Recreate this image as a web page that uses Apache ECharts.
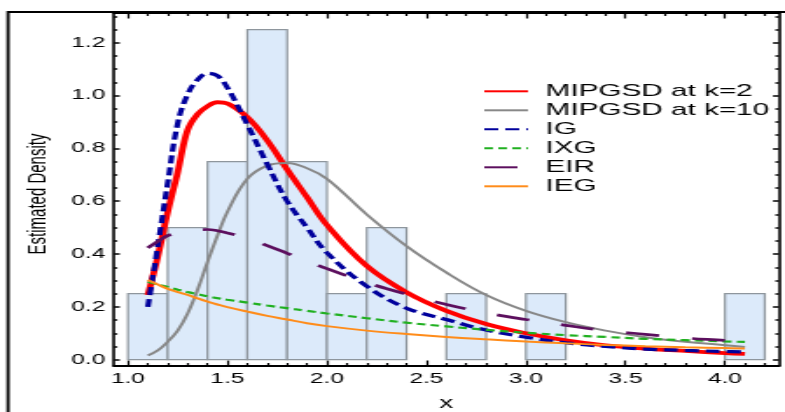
<!DOCTYPE html>
<html>
<head>
<meta charset="utf-8">
<script src="https://cdn.jsdelivr.net/npm/echarts@6/dist/echarts.min.js"></script>
<style>
  body { margin: 0; background: #fff; }
  /* the reference is stretched sideways, so the chart is drawn narrow and scaled */
  #main { width: 449px; height: 412px; transform: scaleX(1.7483); transform-origin: 0 0; }
</style>
</head>
<body>
<div id="main"></div>
<script>
// histogram bins (width 0.2), empty bins left out
var binStart = [1.0, 1.2, 1.4, 1.6, 1.8, 2.0, 2.2, 2.6, 3.0, 4.0];
var binHeight = [0.25, 0.5, 0.75, 1.25, 0.75, 0.25, 0.5, 0.25, 0.25, 0.25];
var binWidth = 0.2;

var xs = [1.1, 1.15, 1.2, 1.25, 1.3, 1.35, 1.4, 1.45, 1.5, 1.6, 1.7, 1.8, 1.9, 2.0,
          2.2, 2.4, 2.6, 2.8, 3.0, 3.2, 3.4, 3.6, 3.8, 4.0, 4.1];
var mipgsd2 = [0.245, 0.39, 0.56, 0.71, 0.87, 0.93, 0.96, 0.975, 0.97, 0.918, 0.83, 0.72, 0.615, 0.51,
               0.355, 0.255, 0.185, 0.135, 0.1, 0.073, 0.054, 0.042, 0.033, 0.025, 0.022];
var mipgsd10 = [0.016, 0.035, 0.068, 0.11, 0.175, 0.265, 0.37, 0.47, 0.56, 0.685, 0.735, 0.745, 0.725, 0.685,
                0.55, 0.43, 0.33, 0.245, 0.185, 0.142, 0.11, 0.085, 0.068, 0.055, 0.048];
var ig = [0.2, 0.43, 0.67, 0.895, 1.005, 1.06, 1.085, 1.075, 1.03, 0.89, 0.74, 0.6, 0.5, 0.405,
          0.278, 0.195, 0.152, 0.112, 0.085, 0.064, 0.05, 0.04, 0.035, 0.031, 0.029];
var ixg = [0.295, 0.285, 0.275, 0.265, 0.256, 0.248, 0.24, 0.233, 0.227, 0.216, 0.205, 0.195, 0.185, 0.175,
           0.157, 0.14, 0.126, 0.113, 0.102, 0.093, 0.086, 0.079, 0.074, 0.069, 0.067];
var eir = [0.423, 0.448, 0.47, 0.48, 0.488, 0.492, 0.493, 0.488, 0.48, 0.46, 0.432, 0.403, 0.374, 0.345,
           0.292, 0.248, 0.209, 0.177, 0.152, 0.13, 0.11, 0.096, 0.082, 0.073, 0.067];
var ieg = [0.302, 0.285, 0.268, 0.256, 0.245, 0.232, 0.22, 0.209, 0.199, 0.182, 0.166, 0.152, 0.138, 0.127,
           0.11, 0.097, 0.086, 0.077, 0.069, 0.062, 0.056, 0.051, 0.047, 0.044, 0.042];

// ticks
var xMajor = [1.0, 1.5, 2.0, 2.5, 3.0, 3.5, 4.0];
var xMinor = [1.1, 1.2, 1.3, 1.4, 1.6, 1.7, 1.8, 1.9, 2.1, 2.2, 2.3, 2.4, 2.6, 2.7, 2.8, 2.9,
              3.1, 3.2, 3.3, 3.4, 3.6, 3.7, 3.8, 3.9, 4.1, 4.2];
var yMajor = [0.0, 0.2, 0.4, 0.6, 0.8, 1.0, 1.2];
var yMinor = [0.05, 0.1, 0.15, 0.25, 0.3, 0.35, 0.45, 0.5, 0.55, 0.65, 0.7, 0.75,
              0.85, 0.9, 0.95, 1.05, 1.1, 1.15, 1.25, 1.3];

var xMin = 0.93, xMax = 4.27, yMin = -0.024, yMax = 1.313;
var font = 'Liberation Sans, Arial, sans-serif';

function pairs(ys) {
    return xs.map(function (x, i) { return [x, ys[i]]; });
}

function xAxis(pos, ticks, len, width, labels) {
    return {
        type: 'value', min: xMin, max: xMax, position: pos,
        splitLine: { show: false },
        axisLine: { show: len > 4, onZero: false, lineStyle: { color: '#000', width: 2 } },
        axisTick: { inside: true, length: len, customValues: ticks, lineStyle: { color: '#000', width: width } },
        axisLabel: labels ? {
            customValues: ticks, margin: 6, color: '#000', fontSize: 14, fontFamily: font,
            formatter: function (v) { return v.toFixed(1); }
        } : { show: false }
    };
}

function yAxis(pos, ticks, len, labels) {
    return {
        type: 'value', min: yMin, max: yMax, position: pos,
        splitLine: { show: false },
        axisLine: { show: len > 2, onZero: false, lineStyle: { color: '#000', width: 1.6 } },
        axisTick: { inside: true, length: len, customValues: ticks, lineStyle: { color: '#000', width: 1.5 } },
        axisLabel: labels ? {
            customValues: ticks, margin: 5, color: '#000', fontSize: 14, fontFamily: font,
            formatter: function (v) { return v.toFixed(1); }
        } : { show: false }
    };
}

var bottomX = xAxis('bottom', xMajor, 5.5, 1.2, true);
bottomX.name = 'x';
bottomX.nameLocation = 'middle';
bottomX.nameGap = 30;
bottomX.nameTextStyle = { color: '#000', fontSize: 16, fontFamily: font };

var leftY = yAxis('left', yMajor, 3.3, true);
leftY.name = 'Estimated Density';
leftY.nameLocation = 'middle';
leftY.nameGap = 34;
leftY.nameTextStyle = { color: '#000', fontSize: 15, fontFamily: font, padding: [0, 9, 0, 0] };

function curve(name, ys, color, width, dash) {
    return {
        name: name, type: 'line', data: pairs(ys), smooth: 0.4,
        symbol: 'none', xAxisIndex: 0, yAxisIndex: 0,
        lineStyle: { color: color, width: width, type: dash || 'solid' },
        itemStyle: { color: color }
    };
}

var myChart = echarts.init(document.getElementById('main'));

var option = {
    animation: false,
    backgroundColor: '#fff',
    grid: { left: 65.2, right: 3.6, top: 13, bottom: 46, outerBoundsMode: 'none' },
    graphic: [{
        type: 'rect', silent: true, z: 100,
        shape: { x: 4.6, y: 12, width: 460, height: 420 },
        style: { fill: 'none', stroke: '#000', lineWidth: 1.8 }
    }],
    legend: {
        orient: 'vertical', left: 276, top: 82.8, padding: 0,
        itemWidth: 25, itemHeight: 12, itemGap: 2,
        itemStyle: { opacity: 0 },
        textStyle: { color: '#000', fontSize: 17, lineHeight: 17, fontFamily: font, padding: [0, 0, 0, 5] },
        data: ['MIPGSD at k=2', 'MIPGSD at k=10', 'IG', 'IXG', 'EIR', 'IEG']
    },
    xAxis: [
        bottomX,
        xAxis('bottom', xMinor, 3, 1.2, false),
        xAxis('top', xMajor, 5.5, 1.2, false),
        xAxis('top', xMinor, 3, 1.2, false)
    ],
    yAxis: [
        leftY,
        yAxis('left', yMinor, 1.9, false),
        yAxis('right', yMajor, 3.3, false),
        yAxis('right', yMinor, 1.9, false)
    ],
    series: [
        {
            type: 'custom', xAxisIndex: 0, yAxisIndex: 0,
            data: binStart.map(function (s, i) { return [s, s + binWidth, binHeight[i]]; }),
            encode: { x: [0, 1], y: 2 },
            renderItem: function (params, api) {
                var p0 = api.coord([api.value(0), api.value(2)]);
                var p1 = api.coord([api.value(1), 0]);
                return {
                    type: 'rect',
                    shape: { x: p0[0], y: p0[1], width: p1[0] - p0[0], height: p1[1] - p0[1] },
                    style: { fill: '#dceafa', stroke: '#8e969d', lineWidth: 1.2 }
                };
            }
        },
        curve('MIPGSD at k=2', mipgsd2, '#ff0000', 3.8),
        curve('MIPGSD at k=10', mipgsd10, '#888888', 2),
        curve('IG', ig, '#00009c', 3.2, [8, 4]),
        curve('IXG', ixg, '#20b020', 2.2, [5, 3]),
        curve('EIR', eir, '#5c0f5e', 2.7, [19, 19]),
        curve('IEG', ieg, '#ff8c1a', 2)
    ]
};

myChart.setOption(option);
</script>
</body>
</html>
